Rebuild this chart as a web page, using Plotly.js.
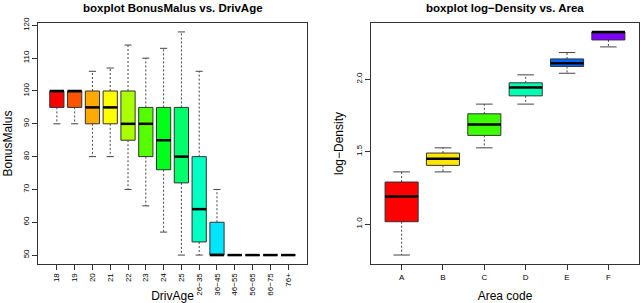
<!DOCTYPE html>
<html>
<head>
<meta charset="utf-8">
<script src="https://cdn.plot.ly/plotly-3.0.1.min.js"></script>
<style>html,body{margin:0;padding:0;background:#fff;}#chart{width:640px;height:303px;}</style>
</head>
<body>
<div id="chart"></div>
<script>
// ---- Left panel: BonusMalus by DrivAge ----
const ageCats = ['18','19','20','21','22','23','24','25','26\u221235','36\u221245','46\u221255','56\u221265','66\u221275','76+'];
const bmLower = [90, 90, 80, 80, 70, 65, 57, 50, 50, 50, 50, 50, 50, 50];
const bmQ1    = [95, 95, 90, 90, 85, 80, 76, 72, 54, 50, 50, 50, 50, 50];
const bmMed   = [100,100,95, 95, 90, 90, 85, 80, 64, 50, 50, 50, 50, 50];
const bmQ3    = [100,100,100,100,100,95, 95, 95, 80, 60, 50, 50, 50, 50];
const bmUpper = [100,100,106,107,114,110,113,118,106,70, 50, 50, 50, 50];
const ageColors = ['#FF0000','#FF5500','#FFAA00','#FFFF00','#AAFF00','#55FF00','#00FF1A','#00FF6A','#00FFC0','#00E5FF','#0099FF','#0044FF','#4400FF','#9900FF'];

// ---- Right panel: log-Density by Area ----
const areaCats = ['A','B','C','D','E','F'];
const ldLower = [0.786, 1.36, 1.526, 1.828, 2.041, 2.223];
const ldQ1    = [1.016, 1.405, 1.612, 1.885, 2.088, 2.271];
const ldMed   = [1.19, 1.45, 1.688, 1.943, 2.11, 2.326];
const ldQ3    = [1.29, 1.49, 1.761, 1.975, 2.14, 2.326];
const ldUpper = [1.36, 1.526, 1.828, 2.03, 2.184, 2.326];
const areaColors = ['#FF0000','#FFE600','#3CFF00','#00FFB3','#0066FF','#8000FF'];

const FONT = 'Liberation Sans, Arial, Helvetica, sans-serif';
const traces = [];

function addPanel(cats, lo, q1, med, q3, up, cols, xa, ya) {
  const wx = [], wy = [], cx = [], cy = [], mx = [], my = [];
  cats.forEach((c, i) => {
    const p = i + 1;
    traces.push({
      type: 'box', x: [p], q1: [q1[i]], median: [med[i]], q3: [q3[i]],
      lowerfence: [q1[i]], upperfence: [q3[i]], width: 0.8, whiskerwidth: 0,
      fillcolor: cols[i], line: {color: '#333333', width: 1},
      xaxis: xa, yaxis: ya, showlegend: false, hoverinfo: 'skip'
    });
    wx.push(p, p, null, p, p, null);
    wy.push(q1[i], lo[i], null, q3[i], up[i], null);
    cx.push(p - 0.2, p + 0.2, null, p - 0.2, p + 0.2, null);
    cy.push(lo[i], lo[i], null, up[i], up[i], null);
    mx.push(p - 0.4, p + 0.4, null);
    my.push(med[i], med[i], null);
  });
  traces.push({type: 'scatter', mode: 'lines', x: wx, y: wy, xaxis: xa, yaxis: ya,
    line: {color: '#444444', width: 1, dash: '2px,2px'}, showlegend: false, hoverinfo: 'skip'});
  traces.push({type: 'scatter', mode: 'lines', x: cx, y: cy, xaxis: xa, yaxis: ya,
    line: {color: '#444444', width: 1}, showlegend: false, hoverinfo: 'skip'});
  traces.push({type: 'scatter', mode: 'lines', x: mx, y: my, xaxis: xa, yaxis: ya,
    line: {color: '#000000', width: 2.5}, showlegend: false, hoverinfo: 'skip'});
}

addPanel(ageCats, bmLower, bmQ1, bmMed, bmQ3, bmUpper, ageColors, 'x', 'y');
addPanel(areaCats, ldLower, ldQ1, ldMed, ldQ3, ldUpper, areaColors, 'x2', 'y2');

const axisCommon = {
  showgrid: false, zeroline: false, showline: true, mirror: true,
  linecolor: '#333333', linewidth: 1, ticks: 'outside', ticklen: 5,
  tickcolor: '#333333', tickfont: {family: FONT, size: 8, color: '#000'}
};

const layout = {
  width: 640, height: 303,
  margin: {l: 38, r: 1, t: 23, b: 39},
  paper_bgcolor: '#ffffff', plot_bgcolor: '#ffffff',
  font: {family: FONT, color: '#000'},
  showlegend: false,
  xaxis: Object.assign({}, axisCommon, {
    domain: [0, 0.4476], range: [-0.06, 15.06],
    tickmode: 'array', tickvals: ageCats.map((c, i) => i + 1), ticktext: ageCats,
    tickangle: -90, anchor: 'y',
    title: {text: 'DrivAge', font: {family: FONT, size: 12}, standoff: 2}
  }),
  yaxis: Object.assign({}, axisCommon, {
    domain: [0, 1], range: [47.28, 120.72], anchor: 'x',
    tickmode: 'array', tickvals: [50, 60, 70, 80, 90, 100, 110, 120],
    tickangle: -90,
    title: {text: 'BonusMalus', font: {family: FONT, size: 12}, standoff: 6}
  }),
  xaxis2: Object.assign({}, axisCommon, {
    domain: [0.5541, 1.0], range: [0.26, 6.74],
    tickmode: 'array', tickvals: areaCats.map((c, i) => i + 1), ticktext: areaCats,
    tickangle: 0, anchor: 'y2',
    title: {text: 'Area code', font: {family: FONT, size: 12}, standoff: 11}
  }),
  yaxis2: Object.assign({}, axisCommon, {
    domain: [0, 1], range: [0.724, 2.388], anchor: 'x2',
    tickmode: 'array', tickvals: [1.0, 1.5, 2.0], ticktext: ['1.0', '1.5', '2.0'],
    tickangle: -90,
    title: {text: 'log\u2212Density', font: {family: FONT, size: 12}, standoff: 8}
  }),
  annotations: [
    {text: '<b>boxplot BonusMalus vs. DrivAge</b>', xref: 'paper', yref: 'paper',
     x: 0.2238, y: 1, yshift: 15, xanchor: 'center', yanchor: 'middle', showarrow: false,
     font: {family: FONT, size: 11.5, color: '#000'}},
    {text: '<b>boxplot log\u2212Density vs. Area</b>', xref: 'paper', yref: 'paper',
     x: 0.777, y: 1, yshift: 15, xanchor: 'center', yanchor: 'middle', showarrow: false,
     font: {family: FONT, size: 11.5, color: '#000'}}
  ]
};

Plotly.newPlot('chart', traces, layout, {displayModeBar: false, staticPlot: true});
</script>
</body>
</html>
